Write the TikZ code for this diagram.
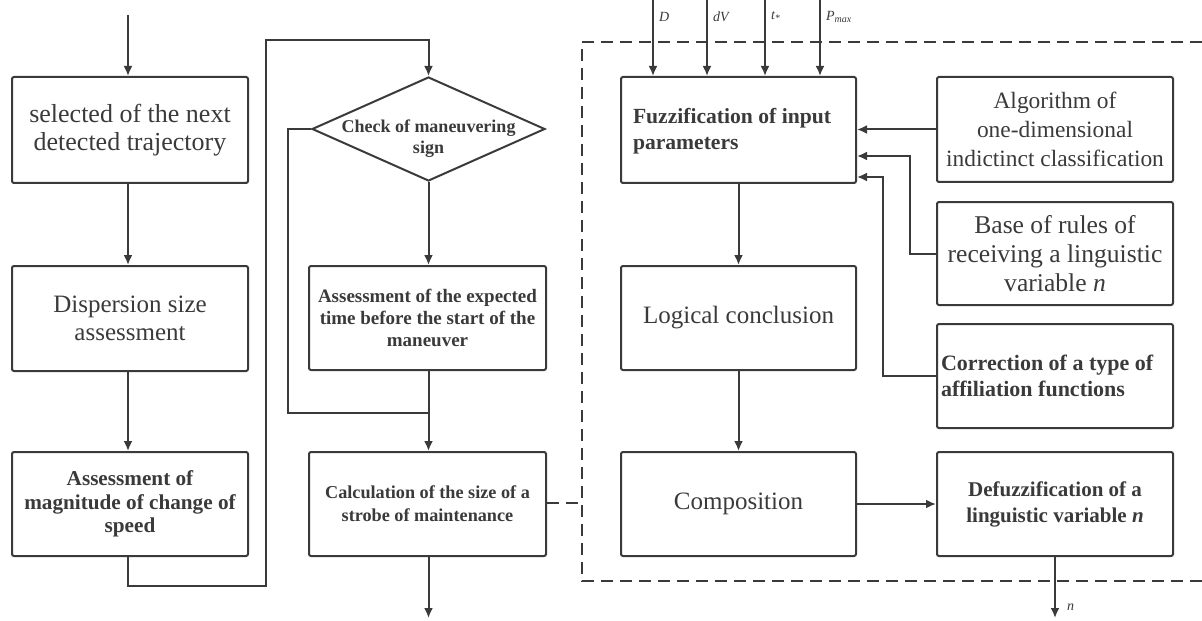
\documentclass[tikz,border=0pt]{standalone}
\usepackage{fontspec}
\setmainfont{Liberation Serif}
\usetikzlibrary{arrows.meta,shapes.geometric}
\definecolor{ink}{HTML}{3A3A3A}
\begin{document}
\begin{tikzpicture}[x=0.5pt,y=-0.5pt,
  line width=1pt, draw=ink, text=ink,
  box/.style={draw=ink, rounded corners=1pt, minimum width=118pt, inner sep=0pt, align=center},
  arr/.style={draw=ink, -{Latex[length=5pt,width=4.5pt]}},
  conn/.style={draw=ink},
  dashbox/.style={draw=ink, dash pattern=on 6pt off 3.5pt},
  inlabel/.style={font=\fontsize{7}{8}\selectfont\itshape, inner sep=1pt, anchor=west}]
\useasboundingbox (0,0) rectangle (1202,620);

% left column
\node[box, minimum height=53pt, font=\fontsize{13}{14}\selectfont] (b1) at (130,130)
  {selected of the next\\detected trajectory};
\node[box, minimum height=52.5pt, font=\fontsize{12.5}{14}\selectfont] (b2) at (130,318.5)
  {Dispersion size\\assessment};
\node[box, minimum height=52pt, font=\fontsize{10.6}{11.8}\selectfont\bfseries] (b3) at (130,504)
  {Assessment of\\magnitude of change of\\speed};

% middle column
\node[diamond, draw=ink, inner sep=0pt, minimum width=116.5pt, minimum height=52pt] (d) at (428.5,129) {};
\node[font=\fontsize{9}{10.5}\selectfont\bfseries, align=center, inner sep=0pt] (dtext) at (428.5,139)
  {Check of maneuvering\\sign};
\node[box, minimum width=118.5pt, minimum height=52pt, font=\fontsize{9.5}{11}\selectfont\bfseries] (m2) at (427.5,318)
  {Assessment of the expected\\time before the start of the\\maneuver};
\node[box, minimum width=118.5pt, minimum height=52pt, font=\fontsize{9.1}{11.5}\selectfont\bfseries] (m3) at (427.5,504)
  {Calculation of the size of a\\strobe of maintenance};

% fuzzy block
\node[box, minimum width=117.5pt, minimum height=53pt] (fz) at (738.5,130) {};
\node[font=\fontsize{10.8}{13}\selectfont\bfseries, align=left, inner sep=0pt, anchor=west] (fztext) at (632,131)
  {Fuzzification of input\\parameters};
\node[box, minimum width=117.5pt, minimum height=52pt, font=\fontsize{12.5}{14}\selectfont] (lc) at (738.5,318)
  {Logical conclusion};
\node[box, minimum width=117.5pt, minimum height=52pt, font=\fontsize{12.5}{14}\selectfont] (cp) at (738.5,504)
  {Composition};

\node[box, minimum height=52.5pt, font=\fontsize{11.7}{14.5}\selectfont] (al) at (1055,129.5)
  {Algorithm of\\one-dimensional\\indictinct classification};
\node[box, minimum height=51.5pt, font=\fontsize{12.8}{14.5}\selectfont] (br) at (1055,253.5)
  {Base of rules of\\receiving a linguistic\\variable \textit{n}};
\node[box, minimum height=52pt] (cr) at (1055,376) {};
\node[font=\fontsize{11}{13}\selectfont\bfseries, align=left, inner sep=0pt, anchor=west] (crtext) at (940,376)
  {Correction of a type of\\affiliation functions};
\node[box, minimum height=52pt, font=\fontsize{10.5}{13}\selectfont\bfseries] (df) at (1055,504)
  {Defuzzification of a\\linguistic variable \textit{n}};

% dashed frame of the fuzzy block
\coordinate (fr1) at (1202,42);
\coordinate (fr2) at (582,42);
\coordinate (fr3) at (582,581);
\coordinate (fr4) at (1202,581);
\draw[dashbox] (fr1) -- (fr2) -- (fr3) -- (fr4);
\coordinate (frl) at (582,503);
\draw[dashbox] (m3.east |- frl) -- (frl);

% inputs
\coordinate (inD) at (653,0);
\coordinate (inV) at (707,0);
\coordinate (inT) at (765,0);
\coordinate (inP) at (820,0);
\draw[arr] (inD) -- (inD |- fz.north);
\draw[arr] (inV) -- (inV |- fz.north);
\draw[arr] (inT) -- (inT |- fz.north);
\draw[arr] (inP) -- (inP |- fz.north);
\node[inlabel] (lD) at (656,17) {D};
\node[inlabel] (lV) at (710,17) {dV};
\node[inlabel] (lT) at (768,17) {t\textsubscript{*}};
\node[inlabel] (lP) at (823,17) {P\textsubscript{max}};

% left column flow
\coordinate (start) at (128,15);
\draw[arr] (start) -- (start |- b1.north);
\draw[arr] (b1.south -| start) -- (b2.north -| start);
\draw[arr] (b2.south -| start) -- (b3.north -| start);
\coordinate (lp1) at (266,586);
\coordinate (lp2) at (266,40);
\draw[arr] (b3.south -| start) |- (lp1) -- (lp2) -| (d.north);

% middle column flow
\coordinate (dl) at (288,413);
\draw[arr] (d.south) -- (d.south |- m2.north);
\draw[conn] (d.west) -| (dl) -- (dl -| d.south);
\draw[arr] (d.south |- m2.south) -- (d.south |- m3.north);
\coordinate (out1) at (428.5,618);
\draw[arr] (d.south |- m3.south) -- (out1);

% fuzzy block flow
\draw[arr] (fz.south) -- (lc.north);
\draw[arr] (lc.south) -- (cp.north);
\draw[arr] (cp.east) -- (df.west);
\draw[arr] (al.west) -- (fz.east |- al.west);
\coordinate (k2) at (910,156);
\coordinate (k3) at (883,177);
\draw[arr] (br.west) -| (k2) -- (fz.east |- k2);
\draw[arr] (cr.west) -| (k3) -- (fz.east |- k3);
\coordinate (out2) at (1055,618);
\draw[arr] (df.south) -- (out2);
\node[inlabel] (ln) at (1064,607) {n};
\end{tikzpicture}
\end{document}
